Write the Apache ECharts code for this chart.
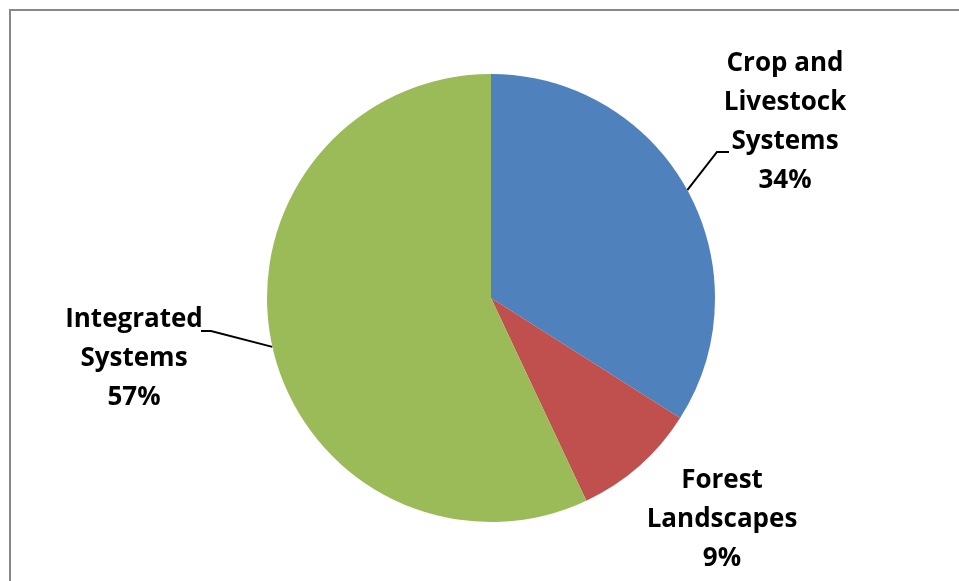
<!DOCTYPE html>
<html>
<head>
<meta charset="utf-8">
<script src="https://cdn.jsdelivr.net/npm/echarts@6/dist/echarts.min.js"></script>
<style>
  html, body { margin: 0; padding: 0; background: #fff; }
  #main { width: 959px; height: 581px; }
</style>
</head>
<body>
<div id="main"></div>
<script>
// data
var categories = ['Crop and\nLivestock\nSystems', 'Forest\nLandscapes', 'Integrated\nSystems'];
var shares = [34, 9, 57];
var colors = ['#4F81BD', '#C0504D', '#9BBB59'];

// where each label sits (center of text block) and leader offsets
var labelSpots = [
  { x: 785, y: 122, line: [[-68, 30], [-56, 30]] },
  { x: 722, y: 520, line: null },
  { x: 134, y: 359, line: [[77, -28], [67, -28]] }
];

var chart = echarts.init(document.getElementById('main'), null, { renderer: 'canvas' });

var pieData = categories.map(function (name, i) {
  return {
    name: name,
    value: shares[i],
    itemStyle: { color: colors[i] },
    labelLine: { show: labelSpots[i].line !== null }
  };
});

var option = {
  animation: false,
  backgroundColor: '#fff',
  graphic: [{
    type: 'polyline',
    shape: { points: [[10, 581], [10, 10], [959, 10]] },
    style: { stroke: '#888', lineWidth: 2, fill: null },
    silent: true
  }],
  series: [{
    type: 'pie',
    center: [491, 298],
    radius: 224,
    startAngle: 90,
    clockwise: true,
    data: pieData,
    label: {
      show: true,
      position: 'outside',
      formatter: '{b}\n{d}%',
      fontFamily: 'Open Sans',
      fontWeight: 'bold',
      fontSize: 26,
      lineHeight: 39,
      color: '#000',
      align: 'center'
    },
    labelLine: {
      show: true,
      length: 20,
      length2: 10,
      lineStyle: { color: '#000', width: 2 }
    },
    labelLayout: function (params) {
      var s = labelSpots[params.dataIndex];
      var out = { x: s.x, y: s.y, align: 'center', verticalAlign: 'middle' };
      if (s.line && params.labelLinePoints) {
        var a = params.labelLinePoints[0];
        out.labelLinePoints = [
          [a[0], a[1]],
          [s.x + s.line[0][0], s.y + s.line[0][1]],
          [s.x + s.line[1][0], s.y + s.line[1][1]]
        ];
      }
      return out;
    }
  }]
};

chart.setOption(option);
</script>
</body>
</html>
